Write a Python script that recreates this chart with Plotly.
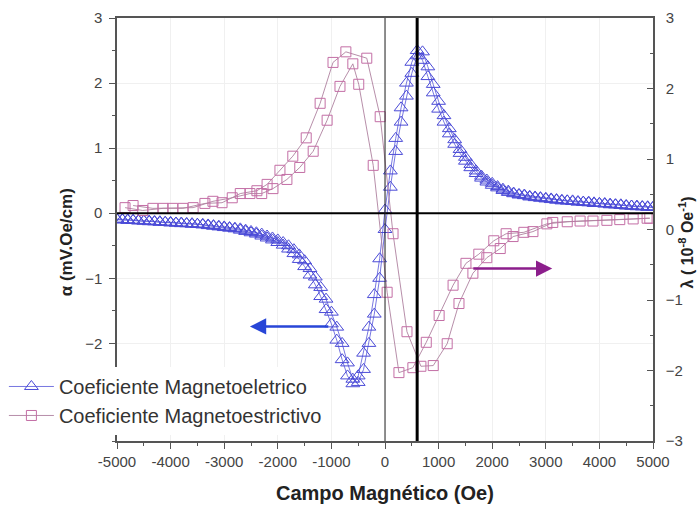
import plotly.graph_objects as go

# ---------------- data ----------------
field_me = [-5000,-4900,-4800,-4700,-4600,-4500,-4400,-4300,-4200,-4100,
            -4000,-3900,-3800,-3700,-3600,-3500,-3400,-3300,-3200,-3100,
            -3000,-2900,-2800,-2700,-2600,-2500,-2400,-2300,-2200,-2100,
            -2000,-1900,-1800,-1700,-1600,-1500,-1400,-1300,-1200,-1100,
            -1000,-900,-800,-700,-600,-500,-400,-300,-200,-100,
            0,
            100,200,300,400,500,600,700,800,900,1000,
            1100,1200,1300,1400,1500,1600,1700,1800,1900,2000,
            2100,2200,2300,2400,2500,2600,2700,2800,2900,3000,
            3100,3200,3300,3400,3500,3600,3700,3800,3900,4000,
            4100,4200,4300,4400,4500,4600,4700,4800,4900,5000]

alpha_branch_a = [-0.10,-0.10,-0.11,-0.11,-0.12,-0.12,-0.13,-0.13,-0.14,-0.14,
                  -0.15,-0.15,-0.16,-0.16,-0.17,-0.17,-0.18,-0.19,-0.20,-0.21,
                  -0.22,-0.23,-0.24,-0.26,-0.28,-0.30,-0.32,-0.35,-0.38,-0.41,
                  -0.45,-0.49,-0.55,-0.62,-0.71,-0.82,-0.95,-1.10,-1.28,-1.48,
                  -1.70,-1.95,-2.25,-2.50,-2.62,-2.50,-2.15,-1.75,-1.25,-0.70,
                  0.05,
                  0.65,1.15,1.62,2.00,2.32,2.50,2.35,2.10,1.85,1.60,
                  1.40,1.22,1.06,0.92,0.80,0.70,0.61,0.54,0.48,0.43,
                  0.39,0.35,0.32,0.30,0.28,0.27,0.25,0.24,0.23,0.22,
                  0.21,0.20,0.19,0.19,0.18,0.17,0.17,0.16,0.15,0.15,
                  0.14,0.13,0.13,0.12,0.11,0.11,0.10,0.10,0.09,0.09]

alpha_branch_b = [-0.09,-0.10,-0.10,-0.11,-0.11,-0.12,-0.12,-0.13,-0.13,-0.14,
                  -0.14,-0.15,-0.15,-0.16,-0.16,-0.17,-0.17,-0.18,-0.19,-0.20,
                  -0.21,-0.22,-0.23,-0.24,-0.26,-0.28,-0.30,-0.32,-0.35,-0.38,
                  -0.41,-0.45,-0.50,-0.56,-0.64,-0.73,-0.85,-0.98,-1.14,-1.32,
                  -1.52,-1.75,-2.00,-2.30,-2.55,-2.60,-2.40,-2.00,-1.55,-1.00,
                  -0.25,
                  0.40,0.95,1.40,1.80,2.15,2.42,2.48,2.25,1.98,1.72,
                  1.50,1.30,1.13,0.98,0.86,0.75,0.65,0.57,0.51,0.46,
                  0.41,0.37,0.34,0.31,0.29,0.28,0.26,0.25,0.24,0.23,
                  0.22,0.21,0.20,0.19,0.19,0.18,0.17,0.17,0.16,0.15,
                  0.15,0.14,0.13,0.13,0.12,0.11,0.11,0.10,0.10,0.09]

field_ms_p = [-4850,-4520,-4140,-3770,-3360,-3040,-2700,-2390,-2200,-1960,
              -1720,-1470,-1210,-970,-730,-340,-90,150,410,670,
              900,1160,1380,1640,1900,2150,2390,2760,3130,3640,
              4140,4630,4940]
lambda_p = [0.31,0.27,0.30,0.30,0.37,0.38,0.51,0.55,0.64,0.84,
            1.04,1.30,1.79,2.37,2.52,2.43,1.60,-0.06,-1.45,-1.94,
            -1.93,-1.62,-1.05,-0.62,-0.40,-0.27,-0.10,-0.03,0.10,0.12,
            0.13,0.15,0.16]

field_ms_q = [-4700,-4330,-3960,-3580,-3210,-2850,-2520,-2300,-2090,-1830,
              -1590,-1340,-1080,-840,-600,-490,-220,40,260,520,
              770,1010,1270,1510,1750,2030,2260,2590,3020,3400,
              3880,4380,4890]
lambda_q = [0.34,0.30,0.30,0.31,0.40,0.45,0.51,0.51,0.58,0.71,
            0.88,1.11,1.55,2.03,2.35,2.06,0.91,-0.89,-2.03,-1.96,
            -1.60,-1.22,-0.79,-0.48,-0.35,-0.16,-0.06,-0.04,0.08,0.11,
            0.12,0.14,0.16]

x_ticks = [-5000,-4000,-3000,-2000,-1000,0,1000,2000,3000,4000,5000]
left_ticks = [-2,-1,0,1,2,3]
right_ticks = [-3,-2,-1,0,1,2,3]

names = ["Coeficiente Magnetoeletrico", "Coeficiente Magnetoestrictivo"]
x_title = "<b>Campo Magnético (Oe)</b>"
y_title = "<b>α (mV.Oe/cm)</b>"
y2_title = "<b>λ ( 10<sup>-8</sup> Oe<sup>-1</sup>)</b>"

# ---------------- figure ----------------
blue = "rgb(75,75,215)"
blue_line = "rgba(95,95,220,0.85)"
pink = "rgb(195,110,165)"
pink_line = "rgba(175,130,160,0.9)"

me_x = field_me + field_me[::-1]
me_y = alpha_branch_a + alpha_branch_b[::-1]
ms_x = field_ms_p + field_ms_q[::-1]
ms_y = lambda_p + lambda_q[::-1]

fig = go.Figure()
fig.add_trace(go.Scatter(
    x=me_x, y=me_y, name=names[0], mode="lines+markers",
    line=dict(color=blue_line, width=1),
    marker=dict(symbol="triangle-up-open", size=12, color=blue,
                line=dict(width=1, color=blue)),
    yaxis="y"))
fig.add_trace(go.Scatter(
    x=ms_x, y=ms_y, name=names[1], mode="lines+markers",
    line=dict(color=pink_line, width=1),
    marker=dict(symbol="square-open", size=10, color=pink,
                line=dict(width=1, color=pink)),
    yaxis="y2"))

font_family = "Liberation Sans, Arial, sans-serif"
tick_font = dict(family=font_family, size=15, color="#444")

fig.update_layout(
    width=697, height=506,
    margin=dict(l=117, r=44, t=18, b=65, autoexpand=False),
    paper_bgcolor="white", plot_bgcolor="white",
    font=dict(family=font_family),
    showlegend=True,
    legend=dict(x=-0.211, y=0.175, xanchor="left", yanchor="top",
                bgcolor="white", borderwidth=0,
                font=dict(family=font_family, size=20, color="#333"),
                tracegroupgap=0, itemwidth=45),
    xaxis=dict(range=[-5000, 5000], tickvals=x_ticks,
               ticktext=[str(v) for v in x_ticks],
               ticks="outside", ticklen=6, tickcolor="#555",
               minor=dict(ticks="outside", dtick=500, ticklen=3, tickcolor="#555", showgrid=False),
               showline=True, linecolor="#555", linewidth=1.5, mirror=True,
               showgrid=True, gridcolor="#f0f0f0", zeroline=False,
               tickfont=tick_font),
    yaxis=dict(range=[-3.5, 3], tickvals=left_ticks,
               ticks="outside", ticklen=6, tickcolor="#555",
               minor=dict(ticks="outside", dtick=0.5, ticklen=3, tickcolor="#555", showgrid=False),
               showline=True, linecolor="#555", linewidth=1.5,
               showgrid=True, gridcolor="#f0f0f0", zeroline=False,
               tickfont=tick_font, ticklabelstandoff=4),
    yaxis2=dict(range=[-3, 3], tickvals=right_ticks, overlaying="y", side="right",
                ticks="inside", ticklen=6, tickcolor="#555",
                minor=dict(ticks="inside", dtick=0.5, ticklen=3, tickcolor="#555", showgrid=False),
                showline=True, linecolor="#555", linewidth=1.5,
                showgrid=False, zeroline=False,
                tickfont=tick_font, ticklabelstandoff=8),
)

# axis titles
fig.add_annotation(text=x_title, xref="paper", yref="paper", x=0.5, y=-0.123,
                   xanchor="center", yanchor="middle", showarrow=False,
                   font=dict(family=font_family, size=20, color="#222"))
fig.add_annotation(text=y_title, xref="paper", yref="paper", x=-0.095, y=0.47,
                   xanchor="center", yanchor="middle", showarrow=False, textangle=-90,
                   font=dict(family=font_family, size=17, color="#222"))
fig.add_annotation(text=y2_title, xref="paper", yref="paper", x=1.062, y=0.47,
                   xanchor="center", yanchor="middle", showarrow=False, textangle=-90,
                   font=dict(family=font_family, size=16, color="#222"))

# reference lines
fig.add_shape(type="line", xref="x", yref="y", x0=-5000, x1=5000, y0=0, y1=0,
              line=dict(color="black", width=2), layer="above")
fig.add_shape(type="line", xref="x", yref="paper", x0=0, x1=0, y0=0, y1=1,
              line=dict(color="#222", width=1), layer="above")
fig.add_shape(type="line", xref="x", yref="paper", x0=600, x1=600, y0=0, y1=1,
              line=dict(color="black", width=3), layer="above")

# arrows
fig.add_annotation(x=-2520, y=-1.74, ax=-1030, ay=-1.74, xref="x", yref="y",
                   axref="x", ayref="y", text="", showarrow=True,
                   arrowhead=2, arrowsize=1.3, arrowwidth=2.5, arrowcolor="rgb(40,70,215)")
fig.add_annotation(x=3120, y=-0.85, ax=1620, ay=-0.85, xref="x", yref="y",
                   axref="x", ayref="y", text="", showarrow=True,
                   arrowhead=2, arrowsize=1.3, arrowwidth=2.5, arrowcolor="rgb(140,30,140)")

fig.write_html("out.html")
